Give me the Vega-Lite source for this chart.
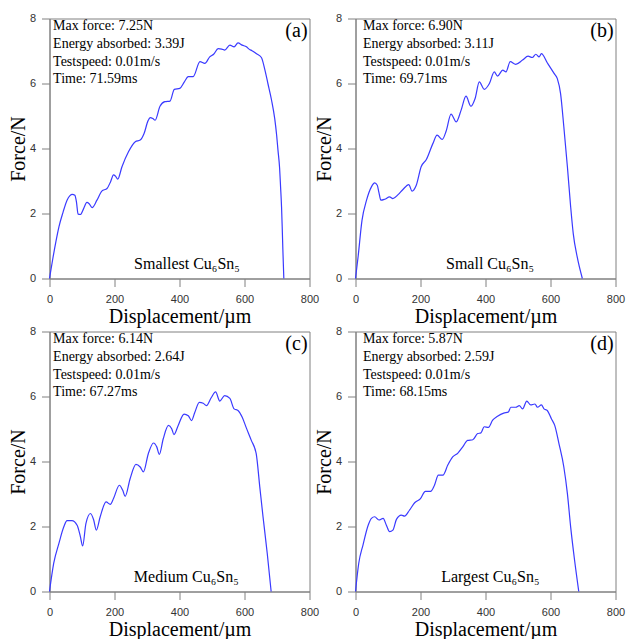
{
  "$schema": "https://vega.github.io/schema/vega-lite/v6.json",
  "padding": {"left": 7.5, "top": 11.5, "right": 0, "bottom": 0},
  "datasets": {
    "curves": [
      {"panel":"a","d":0,"f":0},{"panel":"a","d":10,"f":0.6},{"panel":"a","d":20,"f":1.15},{"panel":"a","d":29,"f":1.59},{"panel":"a","d":42,"f":2.05},{"panel":"a","d":54,"f":2.41},{"panel":"a","d":63,"f":2.55},{"panel":"a","d":70,"f":2.59},{"panel":"a","d":78,"f":2.56},{"panel":"a","d":83,"f":2.35},{"panel":"a","d":88,"f":1.98},{"panel":"a","d":95,"f":1.97},{"panel":"a","d":105,"f":2.15},{"panel":"a","d":115,"f":2.34},{"panel":"a","d":122,"f":2.3},{"panel":"a","d":131,"f":2.18},{"panel":"a","d":146,"f":2.41},{"panel":"a","d":161,"f":2.69},{"panel":"a","d":177,"f":2.77},{"panel":"a","d":188,"f":2.98},{"panel":"a","d":197,"f":3.19},{"panel":"a","d":203,"f":3.15},{"panel":"a","d":210,"f":3.06},{"panel":"a","d":223,"f":3.44},{"panel":"a","d":243,"f":3.9},{"panel":"a","d":264,"f":4.21},{"panel":"a","d":279,"f":4.26},{"panel":"a","d":291,"f":4.46},{"panel":"a","d":303,"f":4.85},{"panel":"a","d":310,"f":4.95},{"panel":"a","d":318,"f":4.92},{"panel":"a","d":325,"f":4.87},{"panel":"a","d":340,"f":5.3},{"panel":"a","d":355,"f":5.44},{"panel":"a","d":371,"f":5.46},{"panel":"a","d":384,"f":5.82},{"panel":"a","d":401,"f":5.85},{"panel":"a","d":415,"f":6.05},{"panel":"a","d":427,"f":6.21},{"panel":"a","d":442,"f":6.21},{"panel":"a","d":463,"f":6.67},{"panel":"a","d":478,"f":6.62},{"panel":"a","d":493,"f":6.82},{"panel":"a","d":505,"f":6.9},{"panel":"a","d":519,"f":7.07},{"panel":"a","d":530,"f":7.06},{"panel":"a","d":539,"f":7.03},{"panel":"a","d":555,"f":7.18},{"panel":"a","d":568,"f":7.13},{"panel":"a","d":580,"f":7.25},{"panel":"a","d":593,"f":7.18},{"panel":"a","d":606,"f":7.13},{"panel":"a","d":615,"f":7.05},{"panel":"a","d":623,"f":7.01},{"panel":"a","d":636,"f":6.92},{"panel":"a","d":652,"f":6.8},{"panel":"a","d":662,"f":6.45},{"panel":"a","d":672,"f":6.0},{"panel":"a","d":683,"f":5.5},{"panel":"a","d":693,"f":4.92},{"panel":"a","d":699,"f":4.4},{"panel":"a","d":703,"f":3.95},{"panel":"a","d":708,"f":3.4},{"panel":"a","d":711,"f":2.82},{"panel":"a","d":714,"f":2.2},{"panel":"a","d":716,"f":1.59},{"panel":"a","d":718,"f":0.9},{"panel":"a","d":721,"f":0},
      {"panel":"b","d":0,"f":0},{"panel":"b","d":8,"f":0.67},{"panel":"b","d":20,"f":1.79},{"panel":"b","d":34,"f":2.41},{"panel":"b","d":49,"f":2.82},{"panel":"b","d":59,"f":2.94},{"panel":"b","d":67,"f":2.87},{"panel":"b","d":72,"f":2.65},{"panel":"b","d":78,"f":2.41},{"panel":"b","d":90,"f":2.44},{"panel":"b","d":105,"f":2.51},{"panel":"b","d":115,"f":2.46},{"panel":"b","d":131,"f":2.58},{"panel":"b","d":146,"f":2.74},{"panel":"b","d":164,"f":2.89},{"panel":"b","d":174,"f":2.69},{"panel":"b","d":187,"f":2.87},{"panel":"b","d":202,"f":3.44},{"panel":"b","d":218,"f":3.66},{"panel":"b","d":238,"f":4.15},{"panel":"b","d":251,"f":4.41},{"panel":"b","d":267,"f":4.28},{"panel":"b","d":279,"f":4.54},{"panel":"b","d":294,"f":5.06},{"panel":"b","d":310,"f":4.82},{"panel":"b","d":325,"f":5.18},{"panel":"b","d":340,"f":5.61},{"panel":"b","d":355,"f":5.3},{"panel":"b","d":368,"f":5.54},{"panel":"b","d":381,"f":6.05},{"panel":"b","d":396,"f":5.82},{"panel":"b","d":412,"f":6.0},{"panel":"b","d":427,"f":6.36},{"panel":"b","d":437,"f":6.23},{"panel":"b","d":453,"f":6.41},{"panel":"b","d":463,"f":6.36},{"panel":"b","d":476,"f":6.67},{"panel":"b","d":493,"f":6.59},{"panel":"b","d":514,"f":6.72},{"panel":"b","d":531,"f":6.84},{"panel":"b","d":544,"f":6.8},{"panel":"b","d":555,"f":6.9},{"panel":"b","d":565,"f":6.82},{"panel":"b","d":572,"f":6.92},{"panel":"b","d":590,"f":6.64},{"panel":"b","d":611,"f":6.31},{"panel":"b","d":621,"f":6.15},{"panel":"b","d":631,"f":5.69},{"panel":"b","d":641,"f":4.67},{"panel":"b","d":652,"f":3.44},{"panel":"b","d":662,"f":2.21},{"panel":"b","d":670,"f":1.38},{"panel":"b","d":682,"f":0.67},{"panel":"b","d":698,"f":0},
      {"panel":"c","d":0,"f":0},{"panel":"c","d":13,"f":0.87},{"panel":"c","d":29,"f":1.48},{"panel":"c","d":44,"f":1.99},{"panel":"c","d":54,"f":2.18},{"panel":"c","d":69,"f":2.18},{"panel":"c","d":85,"f":2.04},{"panel":"c","d":95,"f":1.69},{"panel":"c","d":102,"f":1.4},{"panel":"c","d":112,"f":2.09},{"panel":"c","d":126,"f":2.4},{"panel":"c","d":136,"f":2.2},{"panel":"c","d":144,"f":1.89},{"panel":"c","d":156,"f":2.3},{"panel":"c","d":174,"f":2.76},{"panel":"c","d":187,"f":2.68},{"panel":"c","d":197,"f":2.86},{"panel":"c","d":215,"f":3.27},{"panel":"c","d":225,"f":3.12},{"panel":"c","d":233,"f":2.93},{"panel":"c","d":248,"f":3.47},{"panel":"c","d":266,"f":3.91},{"panel":"c","d":279,"f":3.83},{"panel":"c","d":289,"f":3.68},{"panel":"c","d":304,"f":4.24},{"panel":"c","d":320,"f":4.57},{"panel":"c","d":330,"f":4.45},{"panel":"c","d":338,"f":4.22},{"panel":"c","d":350,"f":4.7},{"panel":"c","d":366,"f":5.11},{"panel":"c","d":376,"f":5.01},{"panel":"c","d":383,"f":4.83},{"panel":"c","d":396,"f":5.11},{"panel":"c","d":414,"f":5.46},{"panel":"c","d":427,"f":5.41},{"panel":"c","d":437,"f":5.26},{"panel":"c","d":447,"f":5.51},{"panel":"c","d":461,"f":5.82},{"panel":"c","d":473,"f":5.79},{"panel":"c","d":483,"f":5.72},{"panel":"c","d":498,"f":5.97},{"panel":"c","d":511,"f":6.14},{"panel":"c","d":524,"f":5.86},{"panel":"c","d":539,"f":6.03},{"panel":"c","d":555,"f":5.94},{"panel":"c","d":568,"f":5.62},{"panel":"c","d":580,"f":5.57},{"panel":"c","d":593,"f":5.36},{"panel":"c","d":605,"f":5.05},{"panel":"c","d":621,"f":4.65},{"panel":"c","d":636,"f":4.24},{"panel":"c","d":647,"f":3.22},{"panel":"c","d":657,"f":2.3},{"panel":"c","d":670,"f":1.17},{"panel":"c","d":682,"f":0},
      {"panel":"d","d":0,"f":0},{"panel":"d","d":10,"f":0.87},{"panel":"d","d":23,"f":1.43},{"panel":"d","d":39,"f":2.04},{"panel":"d","d":49,"f":2.25},{"panel":"d","d":59,"f":2.3},{"panel":"d","d":72,"f":2.2},{"panel":"d","d":85,"f":2.25},{"panel":"d","d":95,"f":2.04},{"panel":"d","d":105,"f":1.84},{"panel":"d","d":115,"f":1.89},{"panel":"d","d":126,"f":2.22},{"panel":"d","d":141,"f":2.35},{"panel":"d","d":151,"f":2.32},{"panel":"d","d":166,"f":2.5},{"panel":"d","d":182,"f":2.73},{"panel":"d","d":200,"f":2.86},{"panel":"d","d":215,"f":3.08},{"panel":"d","d":231,"f":3.08},{"panel":"d","d":243,"f":3.27},{"panel":"d","d":255,"f":3.58},{"panel":"d","d":269,"f":3.58},{"panel":"d","d":284,"f":3.89},{"panel":"d","d":299,"f":4.14},{"panel":"d","d":315,"f":4.26},{"panel":"d","d":330,"f":4.45},{"panel":"d","d":345,"f":4.65},{"panel":"d","d":361,"f":4.67},{"panel":"d","d":376,"f":4.86},{"panel":"d","d":386,"f":4.88},{"panel":"d","d":396,"f":5.07},{"panel":"d","d":409,"f":5.05},{"panel":"d","d":422,"f":5.27},{"panel":"d","d":437,"f":5.39},{"panel":"d","d":456,"f":5.49},{"panel":"d","d":470,"f":5.52},{"panel":"d","d":478,"f":5.67},{"panel":"d","d":493,"f":5.67},{"panel":"d","d":504,"f":5.72},{"panel":"d","d":514,"f":5.62},{"panel":"d","d":527,"f":5.86},{"panel":"d","d":539,"f":5.74},{"panel":"d","d":552,"f":5.77},{"panel":"d","d":560,"f":5.67},{"panel":"d","d":572,"f":5.74},{"panel":"d","d":580,"f":5.62},{"panel":"d","d":590,"f":5.57},{"panel":"d","d":603,"f":5.31},{"panel":"d","d":613,"f":5.11},{"panel":"d","d":626,"f":4.55},{"panel":"d","d":641,"f":3.83},{"panel":"d","d":652,"f":3.01},{"panel":"d","d":662,"f":1.99},{"panel":"d","d":674,"f":0.97},{"panel":"d","d":687,"f":0}
    ],
    "notes": [
      {"panel":"a","info":"Max force: 7.25N\nEnergy absorbed: 3.39J\nTestspeed: 0.01m/s\nTime: 71.59ms","tag":"(a)","name":"Smallest Cu₆Sn₅"},
      {"panel":"b","info":"Max force: 6.90N\nEnergy absorbed: 3.11J\nTestspeed: 0.01m/s\nTime: 69.71ms","tag":"(b)","name":"Small Cu₆Sn₅"},
      {"panel":"c","info":"Max force: 6.14N\nEnergy absorbed: 2.64J\nTestspeed: 0.01m/s\nTime: 67.27ms","tag":"(c)","name":"Medium Cu₆Sn₅"},
      {"panel":"d","info":"Max force: 5.87N\nEnergy absorbed: 2.59J\nTestspeed: 0.01m/s\nTime: 68.15ms","tag":"(d)","name":"Largest Cu₆Sn₅"}
    ]
  },
  "config": {
    "view": {"stroke": "#808080", "strokeWidth": 1},
    "axis": {"domainColor": "#808080", "tickColor": "#808080", "labelFont": "Liberation Sans", "labelFontSize": 11, "labelColor": "#333333", "titleFont": "Liberation Serif", "titleFontSize": 20, "titleFontWeight": "normal", "titleColor": "#000000", "grid": false, "labelFlush": false, "labelOverlap": false},
    "axisX": {"labelPadding": 7, "titlePadding": 2},
    "axisY": {"labelPadding": 6, "titlePadding": 1},
    "text": {"font": "Liberation Serif", "color": "#000000"}
  },
  "columns": 2,
  "bounds": "flush",
  "spacing": {"row": 53, "column": 46},
  "concat": [
    {
      "width": 260, "height": 260,
      "layer": [
        {"data": {"name": "curves"}, "transform": [{"filter": "datum.panel === 'a'"}],
         "mark": {"type": "line", "color": "#3a3aff", "strokeWidth": 1.2, "interpolate": "monotone"},
         "encoding": {
           "x": {"field": "d", "type": "quantitative", "scale": {"domain": [0, 800]}, "axis": {"title": "Displacement/µm", "values": [0,100,200,300,400,500,600,700,800], "labelExpr": "datum.value % 200 === 0 ? datum.label : ''", "tickSize": {"condition": {"test": "datum.value % 200 === 0", "value": 8}, "value": 4}}},
           "y": {"field": "f", "type": "quantitative", "scale": {"domain": [0, 8]}, "axis": {"title": "Force/N", "values": [0,1,2,3,4,5,6,7,8], "labelExpr": "datum.value % 2 === 0 ? datum.label : ''", "tickSize": {"condition": {"test": "datum.value % 2 === 0", "value": 8}, "value": 4}}}
         }},
        {"data": {"name": "notes"}, "transform": [{"filter": "datum.panel === 'a'"}],
         "mark": {"type": "text", "align": "left", "baseline": "top", "fontSize": 14, "lineBreak": "\n", "lineHeight": 17.6},
         "encoding": {"x": {"datum": 11, "type": "quantitative"}, "y": {"datum": 7.97, "type": "quantitative"}, "text": {"field": "info"}}},
        {"data": {"name": "notes"}, "transform": [{"filter": "datum.panel === 'a'"}],
         "mark": {"type": "text", "align": "right", "baseline": "alphabetic", "fontSize": 20},
         "encoding": {"x": {"datum": 794, "type": "quantitative"}, "y": {"datum": 7.42, "type": "quantitative"}, "text": {"field": "tag"}}},
        {"data": {"name": "notes"}, "transform": [{"filter": "datum.panel === 'a'"}],
         "mark": {"type": "text", "align": "center", "baseline": "alphabetic", "fontSize": 16},
         "encoding": {"x": {"datum": 423, "type": "quantitative"}, "y": {"datum": 0.28, "type": "quantitative"}, "text": {"field": "name"}}}
      ]
    },
    {
      "width": 260, "height": 260,
      "layer": [
        {"data": {"name": "curves"}, "transform": [{"filter": "datum.panel === 'b'"}],
         "mark": {"type": "line", "color": "#3a3aff", "strokeWidth": 1.2, "interpolate": "monotone"},
         "encoding": {
           "x": {"field": "d", "type": "quantitative", "scale": {"domain": [0, 800]}, "axis": {"title": "Displacement/µm", "values": [0,100,200,300,400,500,600,700,800], "labelExpr": "datum.value % 200 === 0 ? datum.label : ''", "tickSize": {"condition": {"test": "datum.value % 200 === 0", "value": 8}, "value": 4}}},
           "y": {"field": "f", "type": "quantitative", "scale": {"domain": [0, 8]}, "axis": {"title": "Force/N", "values": [0,1,2,3,4,5,6,7,8], "labelExpr": "datum.value % 2 === 0 ? datum.label : ''", "tickSize": {"condition": {"test": "datum.value % 2 === 0", "value": 8}, "value": 4}}}
         }},
        {"data": {"name": "notes"}, "transform": [{"filter": "datum.panel === 'b'"}],
         "mark": {"type": "text", "align": "left", "baseline": "top", "fontSize": 14, "lineBreak": "\n", "lineHeight": 17.6},
         "encoding": {"x": {"datum": 23, "type": "quantitative"}, "y": {"datum": 7.97, "type": "quantitative"}, "text": {"field": "info"}}},
        {"data": {"name": "notes"}, "transform": [{"filter": "datum.panel === 'b'"}],
         "mark": {"type": "text", "align": "right", "baseline": "alphabetic", "fontSize": 20},
         "encoding": {"x": {"datum": 794, "type": "quantitative"}, "y": {"datum": 7.42, "type": "quantitative"}, "text": {"field": "tag"}}},
        {"data": {"name": "notes"}, "transform": [{"filter": "datum.panel === 'b'"}],
         "mark": {"type": "text", "align": "center", "baseline": "alphabetic", "fontSize": 16},
         "encoding": {"x": {"datum": 414, "type": "quantitative"}, "y": {"datum": 0.28, "type": "quantitative"}, "text": {"field": "name"}}}
      ]
    },
    {
      "width": 260, "height": 260,
      "layer": [
        {"data": {"name": "curves"}, "transform": [{"filter": "datum.panel === 'c'"}],
         "mark": {"type": "line", "color": "#3a3aff", "strokeWidth": 1.2, "interpolate": "monotone"},
         "encoding": {
           "x": {"field": "d", "type": "quantitative", "scale": {"domain": [0, 800]}, "axis": {"title": "Displacement/µm", "values": [0,100,200,300,400,500,600,700,800], "labelExpr": "datum.value % 200 === 0 ? datum.label : ''", "tickSize": {"condition": {"test": "datum.value % 200 === 0", "value": 8}, "value": 4}}},
           "y": {"field": "f", "type": "quantitative", "scale": {"domain": [0, 8]}, "axis": {"title": "Force/N", "values": [0,1,2,3,4,5,6,7,8], "labelExpr": "datum.value % 2 === 0 ? datum.label : ''", "tickSize": {"condition": {"test": "datum.value % 2 === 0", "value": 8}, "value": 4}}}
         }},
        {"data": {"name": "notes"}, "transform": [{"filter": "datum.panel === 'c'"}],
         "mark": {"type": "text", "align": "left", "baseline": "top", "fontSize": 14, "lineBreak": "\n", "lineHeight": 17.6},
         "encoding": {"x": {"datum": 11, "type": "quantitative"}, "y": {"datum": 7.97, "type": "quantitative"}, "text": {"field": "info"}}},
        {"data": {"name": "notes"}, "transform": [{"filter": "datum.panel === 'c'"}],
         "mark": {"type": "text", "align": "right", "baseline": "alphabetic", "fontSize": 20},
         "encoding": {"x": {"datum": 794, "type": "quantitative"}, "y": {"datum": 7.42, "type": "quantitative"}, "text": {"field": "tag"}}},
        {"data": {"name": "notes"}, "transform": [{"filter": "datum.panel === 'c'"}],
         "mark": {"type": "text", "align": "center", "baseline": "alphabetic", "fontSize": 16},
         "encoding": {"x": {"datum": 421, "type": "quantitative"}, "y": {"datum": 0.28, "type": "quantitative"}, "text": {"field": "name"}}}
      ]
    },
    {
      "width": 260, "height": 260,
      "layer": [
        {"data": {"name": "curves"}, "transform": [{"filter": "datum.panel === 'd'"}],
         "mark": {"type": "line", "color": "#3a3aff", "strokeWidth": 1.2, "interpolate": "monotone"},
         "encoding": {
           "x": {"field": "d", "type": "quantitative", "scale": {"domain": [0, 800]}, "axis": {"title": "Displacement/µm", "values": [0,100,200,300,400,500,600,700,800], "labelExpr": "datum.value % 200 === 0 ? datum.label : ''", "tickSize": {"condition": {"test": "datum.value % 200 === 0", "value": 8}, "value": 4}}},
           "y": {"field": "f", "type": "quantitative", "scale": {"domain": [0, 8]}, "axis": {"title": "Force/N", "values": [0,1,2,3,4,5,6,7,8], "labelExpr": "datum.value % 2 === 0 ? datum.label : ''", "tickSize": {"condition": {"test": "datum.value % 2 === 0", "value": 8}, "value": 4}}}
         }},
        {"data": {"name": "notes"}, "transform": [{"filter": "datum.panel === 'd'"}],
         "mark": {"type": "text", "align": "left", "baseline": "top", "fontSize": 14, "lineBreak": "\n", "lineHeight": 17.6},
         "encoding": {"x": {"datum": 23, "type": "quantitative"}, "y": {"datum": 7.97, "type": "quantitative"}, "text": {"field": "info"}}},
        {"data": {"name": "notes"}, "transform": [{"filter": "datum.panel === 'd'"}],
         "mark": {"type": "text", "align": "right", "baseline": "alphabetic", "fontSize": 20},
         "encoding": {"x": {"datum": 794, "type": "quantitative"}, "y": {"datum": 7.42, "type": "quantitative"}, "text": {"field": "tag"}}},
        {"data": {"name": "notes"}, "transform": [{"filter": "datum.panel === 'd'"}],
         "mark": {"type": "text", "align": "center", "baseline": "alphabetic", "fontSize": 16},
         "encoding": {"x": {"datum": 415, "type": "quantitative"}, "y": {"datum": 0.28, "type": "quantitative"}, "text": {"field": "name"}}}
      ]
    }
  ]
}
